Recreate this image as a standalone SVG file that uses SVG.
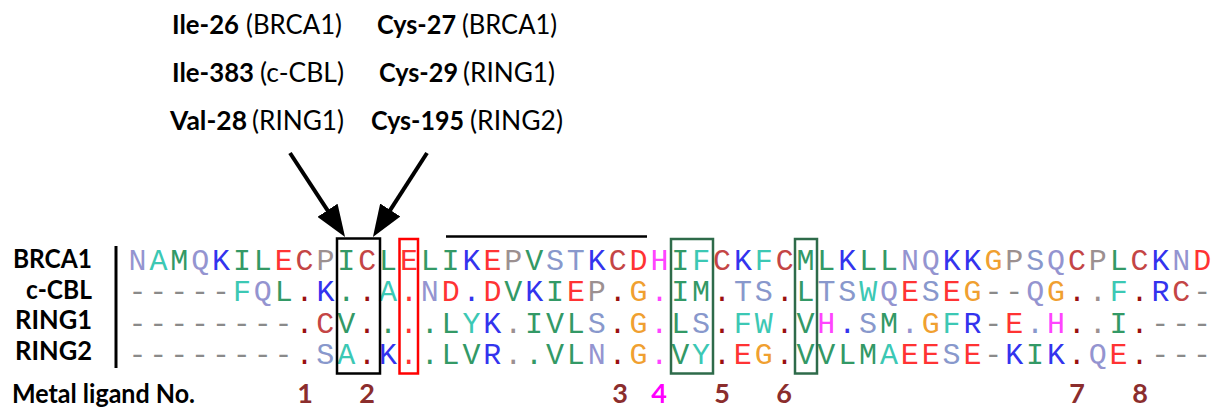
<svg xmlns="http://www.w3.org/2000/svg" width="1222" height="412" viewBox="0 0 1222 412">
<style>
.lb{font-family:Lato,"Liberation Sans",sans-serif;font-size:27px;fill:#000}
.b{font-weight:bold}
.num{font-family:Lato,"Liberation Sans",sans-serif;font-size:27px;font-weight:bold;fill:#8b2d2d;text-anchor:middle}
.seq{font-family:"Liberation Mono",monospace;font-size:30px;letter-spacing:2.87px}
.h{fill:#339966}.t{fill:#3cc8b4}.k{fill:#3333ee}.e{fill:#ff3333}.c{fill:#c44545}.g{fill:#f0a030}
.p{fill:#9c9090}.s{fill:#8898cc}.n{fill:#9494d0}.m{fill:#ff44ff}.d{fill:#8a8a8a}.x{fill:#9b1010}
.box{fill:none;stroke-width:2.5}
.arr{stroke:#000;stroke-width:4;fill:none}
</style>
<defs>
<marker id="ah" markerUnits="userSpaceOnUse" markerWidth="32" markerHeight="24" viewBox="0 0 32 24" refX="4" refY="12" orient="auto">
<path d="M0,0 L32,12 L0,24 Z" fill="#000"/>
</marker>
</defs>

<g id="annotations">
<text class="lb b" x="172" y="34" textLength="67" lengthAdjust="spacingAndGlyphs">Ile-26</text>
<text class="lb" x="246" y="34" textLength="96" lengthAdjust="spacingAndGlyphs">(BRCA1)</text>
<text class="lb b" x="377" y="34" textLength="79" lengthAdjust="spacingAndGlyphs">Cys-27</text>
<text class="lb" x="462" y="34" textLength="95" lengthAdjust="spacingAndGlyphs">(BRCA1)</text>
<text class="lb b" x="172" y="82" textLength="82" lengthAdjust="spacingAndGlyphs">Ile-383</text>
<text class="lb" x="260" y="82" textLength="84" lengthAdjust="spacingAndGlyphs">(c-CBL)</text>
<text class="lb b" x="379" y="82" textLength="79" lengthAdjust="spacingAndGlyphs">Cys-29</text>
<text class="lb" x="463" y="82" textLength="92" lengthAdjust="spacingAndGlyphs">(RING1)</text>
<text class="lb b" x="170" y="130" textLength="77" lengthAdjust="spacingAndGlyphs">Val-28</text>
<text class="lb" x="252" y="130" textLength="92" lengthAdjust="spacingAndGlyphs">(RING1)</text>
<text class="lb b" x="371" y="130" textLength="93" lengthAdjust="spacingAndGlyphs">Cys-195</text>
<text class="lb" x="470" y="130" textLength="93" lengthAdjust="spacingAndGlyphs">(RING2)</text>
</g>

<g id="connectors">
<line class="arr" x1="290" y1="153" x2="329.7" y2="213.6" marker-end="url(#ah)"/>
<line class="arr" x1="427" y1="153" x2="388.1" y2="213.4" marker-end="url(#ah)"/>
<line x1="446" y1="236.5" x2="647" y2="236.5" stroke="#000" stroke-width="2.5"/>
</g>

<g id="labels">
<text class="lb b" x="92" y="268" text-anchor="end" textLength="79" lengthAdjust="spacingAndGlyphs">BRCA1</text>
<text class="lb b" x="92" y="298.5" text-anchor="end" textLength="66" lengthAdjust="spacingAndGlyphs">c-CBL</text>
<text class="lb b" x="92" y="329" text-anchor="end" textLength="77" lengthAdjust="spacingAndGlyphs">RING1</text>
<text class="lb b" x="92" y="359.5" text-anchor="end" textLength="77" lengthAdjust="spacingAndGlyphs">RING2</text>
<line x1="116" y1="246" x2="116" y2="368" stroke="#000" stroke-width="3"/>
</g>

<g id="alignment">
<text class="seq" x="128.5" y="270"><tspan class="n">N</tspan><tspan class="t">A</tspan><tspan class="h">M</tspan><tspan class="n">Q</tspan><tspan class="k">K</tspan><tspan class="h">IL</tspan><tspan class="e">E</tspan><tspan class="c">C</tspan><tspan class="p">P</tspan><tspan class="h">I</tspan><tspan class="c">C</tspan><tspan class="h">L</tspan><tspan class="e">E</tspan><tspan class="h">LI</tspan><tspan class="k">K</tspan><tspan class="e">E</tspan><tspan class="p">P</tspan><tspan class="h">V</tspan><tspan class="s">ST</tspan><tspan class="k">K</tspan><tspan class="c">C</tspan><tspan class="e">D</tspan><tspan class="m">H</tspan><tspan class="h">I</tspan><tspan class="t">F</tspan><tspan class="c">C</tspan><tspan class="k">K</tspan><tspan class="t">F</tspan><tspan class="c">C</tspan><tspan class="h">ML</tspan><tspan class="k">K</tspan><tspan class="h">LL</tspan><tspan class="n">NQ</tspan><tspan class="k">KK</tspan><tspan class="g">G</tspan><tspan class="p">P</tspan><tspan class="s">S</tspan><tspan class="n">Q</tspan><tspan class="c">C</tspan><tspan class="p">P</tspan><tspan class="h">L</tspan><tspan class="c">C</tspan><tspan class="k">K</tspan><tspan class="n">N</tspan><tspan class="e">D</tspan></text>
<text class="seq" x="128.5" y="301"><tspan class="d">-----</tspan><tspan class="t">F</tspan><tspan class="n">Q</tspan><tspan class="h">L</tspan><tspan class="x">.</tspan><tspan class="k">K</tspan><tspan class="h">.</tspan><tspan class="x">.</tspan><tspan class="t">A</tspan><tspan class="e">.</tspan><tspan class="n">N</tspan><tspan class="e">D</tspan><tspan class="k">.</tspan><tspan class="e">D</tspan><tspan class="h">V</tspan><tspan class="k">K</tspan><tspan class="h">I</tspan><tspan class="e">E</tspan><tspan class="p">P</tspan><tspan class="x">.</tspan><tspan class="g">G</tspan><tspan class="m">.</tspan><tspan class="h">IM</tspan><tspan class="x">.</tspan><tspan class="s">TS</tspan><tspan class="x">.</tspan><tspan class="h">L</tspan><tspan class="s">TS</tspan><tspan class="t">W</tspan><tspan class="n">Q</tspan><tspan class="e">E</tspan><tspan class="s">S</tspan><tspan class="e">E</tspan><tspan class="g">G</tspan><tspan class="d">--</tspan><tspan class="n">Q</tspan><tspan class="g">G</tspan><tspan class="x">.</tspan><tspan class="p">.</tspan><tspan class="t">F</tspan><tspan class="x">.</tspan><tspan class="k">R</tspan><tspan class="c">C</tspan><tspan class="d">-</tspan></text>
<text class="seq" x="128.5" y="332.5"><tspan class="d">--------</tspan><tspan class="x">.</tspan><tspan class="c">C</tspan><tspan class="h">V</tspan><tspan class="x">.</tspan><tspan class="h">.</tspan><tspan class="e">.</tspan><tspan class="h">.L</tspan><tspan class="t">Y</tspan><tspan class="k">K</tspan><tspan class="p">.</tspan><tspan class="h">IVL</tspan><tspan class="s">S</tspan><tspan class="x">.</tspan><tspan class="g">G</tspan><tspan class="m">.</tspan><tspan class="h">L</tspan><tspan class="s">S</tspan><tspan class="x">.</tspan><tspan class="t">FW</tspan><tspan class="x">.</tspan><tspan class="h">V</tspan><tspan class="m">H</tspan><tspan class="k">.</tspan><tspan class="s">S</tspan><tspan class="h">M</tspan><tspan class="n">.</tspan><tspan class="g">G</tspan><tspan class="t">F</tspan><tspan class="k">R</tspan><tspan class="d">-</tspan><tspan class="e">E</tspan><tspan class="s">.</tspan><tspan class="m">H</tspan><tspan class="x">.</tspan><tspan class="p">.</tspan><tspan class="h">I</tspan><tspan class="x">.</tspan><tspan class="d">---</tspan></text>
<text class="seq" x="128.5" y="364"><tspan class="d">--------</tspan><tspan class="x">.</tspan><tspan class="s">S</tspan><tspan class="t">A</tspan><tspan class="x">.</tspan><tspan class="k">K</tspan><tspan class="e">.</tspan><tspan class="h">.LV</tspan><tspan class="k">R</tspan><tspan class="p">.</tspan><tspan class="h">.VL</tspan><tspan class="n">N</tspan><tspan class="x">.</tspan><tspan class="g">G</tspan><tspan class="m">.</tspan><tspan class="h">V</tspan><tspan class="t">Y</tspan><tspan class="x">.</tspan><tspan class="e">E</tspan><tspan class="g">G</tspan><tspan class="x">.</tspan><tspan class="h">VVLM</tspan><tspan class="t">A</tspan><tspan class="e">EE</tspan><tspan class="s">S</tspan><tspan class="e">E</tspan><tspan class="d">-</tspan><tspan class="k">K</tspan><tspan class="h">I</tspan><tspan class="k">K</tspan><tspan class="x">.</tspan><tspan class="n">Q</tspan><tspan class="e">E</tspan><tspan class="x">.</tspan><tspan class="d">---</tspan></text>
</g>

<g id="boxes">
<rect class="box" x="337" y="238.5" width="43" height="135" stroke="#000"/>
<rect class="box" x="399.5" y="239" width="18.5" height="134.5" stroke="#ff0000"/>
<rect class="box" x="671" y="239" width="42" height="134.5" stroke="#2e6b4a"/>
<rect class="box" x="795" y="239" width="22" height="134.5" stroke="#2e6b4a"/>
</g>

<g id="ligands">
<text class="lb b" x="12" y="403" textLength="183" lengthAdjust="spacingAndGlyphs">Metal ligand No.</text>
<text class="num" x="305" y="403">1</text>
<text class="num" x="367" y="403">2</text>
<text class="num" x="620" y="403">3</text>
<text class="num" x="659" y="403" style="fill:#ff00ff">4</text>
<text class="num" x="722" y="403">5</text>
<text class="num" x="784" y="403">6</text>
<text class="num" x="1077" y="403">7</text>
<text class="num" x="1140" y="403">8</text>
</g>
</svg>
